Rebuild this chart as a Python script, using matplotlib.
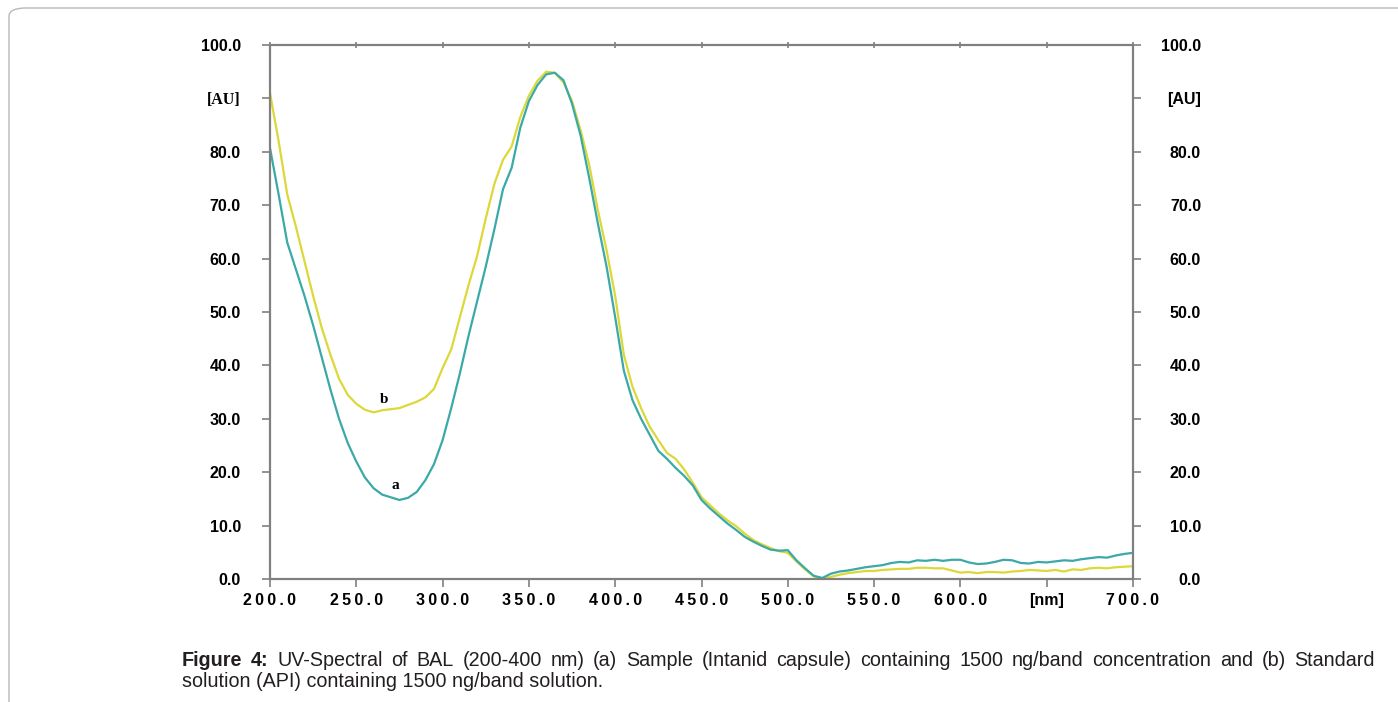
import matplotlib.pyplot as plt
from matplotlib.patches import FancyBboxPatch
import numpy as np

# wavelength grid (nm)
wl = np.arange(200, 701, 5)

# (a) sample - teal
sample_a = [80.7, 72, 63, 58, 53, 47.5, 41.5, 35.5, 30, 25.5,
            22, 19, 17, 15.8, 15.3, 14.8, 15.2, 16.3, 18.5, 21.5,
            26, 32, 38.5, 45.5, 52, 58.5, 65.5, 73, 77, 84.5,
            89.5, 92.5, 94.5, 94.8, 93.4, 89, 83, 75, 66.5, 58.5,
            49, 39, 33.5, 30, 27, 24, 22.5, 20.8, 19.3, 17.5,
            14.8, 13.2, 11.8, 10.4, 9.2, 7.9, 7, 6.2, 5.5, 5.3,
            5.4, 3.5, 2, 0.6, 0.2, 1.0, 1.4, 1.6, 1.9, 2.2,
            2.4, 2.6, 3.0, 3.2, 3.1, 3.5, 3.4, 3.6, 3.4, 3.6,
            3.6, 3.1, 2.8, 2.9, 3.2, 3.6, 3.5, 3.0, 2.9, 3.2,
            3.1, 3.3, 3.5, 3.4, 3.7, 3.9, 4.1, 4.0, 4.4, 4.7,
            4.9]

# (b) standard - yellow
standard_b = [91, 82, 72, 66, 59.5, 53, 47, 42, 37.5, 34.5,
              32.8, 31.7, 31.2, 31.6, 31.8, 32, 32.6, 33.2, 34, 35.6,
              39.5, 43, 49, 55, 60.5, 67.5, 74, 78.5, 81, 86.5,
              90.5, 93.3, 95, 94.8, 93, 89.5, 84, 77.5, 69, 61.6,
              53, 42, 36, 32, 28.5, 26, 23.6, 22.5, 20.5, 18,
              15.3, 13.8, 12.3, 11, 9.9, 8.5, 7.3, 6.5, 5.8, 5.2,
              4.9, 3.3, 1.8, 0.5, 0.1, 0.4, 0.8, 1.1, 1.3, 1.5,
              1.5, 1.7, 1.8, 1.9, 1.9, 2.1, 2.1, 2.0, 2.0, 1.6,
              1.2, 1.3, 1.1, 1.3, 1.3, 1.2, 1.4, 1.5, 1.7, 1.6,
              1.5, 1.7, 1.4, 1.8, 1.7, 2.0, 2.1, 2.0, 2.2, 2.3,
              2.4]

x_ticks = [200, 250, 300, 350, 400, 450, 500, 550, 600, 650, 700]
x_labels = ['200.0', '250.0', '300.0', '350.0', '400.0', '450.0', '500.0',
            '550.0', '600.0', '[nm]', '700.0']
y_ticks = [0, 10, 20, 30, 40, 50, 60, 70, 80, 90, 100]
y_labels = ['0.0', '10.0', '20.0', '30.0', '40.0', '50.0', '60.0', '70.0',
            '80.0', '[AU]', '100.0']

caption_line1 = ("Figure 4: UV-Spectral of BAL (200-400 nm) (a) Sample (Intanid capsule) containing "
                 "1500 ng/band concentration and (b) Standard")
caption_line2 = "solution (API) containing 1500 ng/band solution."

plt.rcParams['font.family'] = ['Liberation Sans', 'DejaVu Sans']

fig = plt.figure(figsize=(13.98, 7.02), dpi=100)
ax = fig.add_axes([270 / 1398, 1 - 579 / 702, 863 / 1398, 534 / 702])

# card border
card = FancyBboxPatch((9 / 1398, -0.1), 1.2, 1 - 8 / 702 + 0.1,
                      boxstyle="round,pad=0,rounding_size=0.012",
                      transform=fig.transFigure, fill=False,
                      edgecolor='#b8b8b8', linewidth=1.0)
fig.patches.append(card)

teal = '#3aa9a7'
yellow = '#dcd838'
ax.plot(wl, standard_b, color=yellow, linewidth=1.6)
ax.plot(wl, sample_a, color=teal, linewidth=1.6)

ax.set_xlim(200, 700)
ax.set_ylim(0, 100)

spine_col = '#808080'
for s in ax.spines.values():
    s.set_color(spine_col)
    s.set_linewidth(1.6)

ax.set_xticks(x_ticks)
ax.set_xticklabels(['\u2009'.join(t) if t[0].isdigit() else t for t in x_labels],
                   fontsize=11.5, fontweight='bold')
ax.set_yticks(y_ticks)
ax.set_yticklabels(y_labels, fontsize=11.5, fontweight='bold')
ax.tick_params(axis='both', direction='out', length=6, width=1.2, color=spine_col)
ax.tick_params(axis='y', pad=15)
ax.tick_params(axis='x', pad=4)
for lbl in ax.get_yticklabels():
    if lbl.get_text() == '[AU]':
        lbl.set_family('Liberation Serif')

# small crossing ticks on the top edge
top = ax.secondary_xaxis('top')
top.set_xticks(x_ticks)
top.set_xticklabels([])
top.tick_params(direction='inout', length=5, width=1.2, color=spine_col)
top.spines['top'].set_visible(False)

ax2 = ax.twinx()
ax2.set_ylim(0, 100)
ax2.set_yticks(y_ticks)
ax2.set_yticklabels(y_labels, fontsize=11.5, fontweight='bold', ha='right')
ax2.tick_params(axis='y', direction='out', length=6, width=1.2, color=spine_col, pad=43)
for s in ax2.spines.values():
    s.set_visible(False)

# curve labels
ax.text(272.5, 16.2, 'a', family='Liberation Serif', fontweight='bold', fontsize=11,
        ha='center', va='bottom')
ax.text(266, 32.4, 'b', family='Liberation Serif', fontweight='bold', fontsize=11,
        ha='center', va='bottom')

# caption: first line justified between x=182 and x=1375 px
cap_col = '#231f20'
cap_size = 14.2
W, H = 1398, 702
words = caption_line1.split(' ')
fig.canvas.draw()
renderer = fig.canvas.get_renderer()
texts = []
for i, w in enumerate(words):
    weight = 'bold' if i < 2 else 'normal'
    texts.append(fig.text(0, 1 - 666 / H, w, fontsize=cap_size,
                          fontweight=weight, color=cap_col, va='baseline'))
widths = [t.get_window_extent(renderer).width for t in texts]
gap = (1375 - 182 - sum(widths)) / (len(words) - 1)
xpos = 182
for t, wd in zip(texts, widths):
    t.set_x(xpos / W)
    xpos += wd + gap

fig.text(182 / W, 1 - 687 / H, caption_line2, fontsize=cap_size,
         color=cap_col, va='baseline')

fig.savefig('out.png', dpi=100)
